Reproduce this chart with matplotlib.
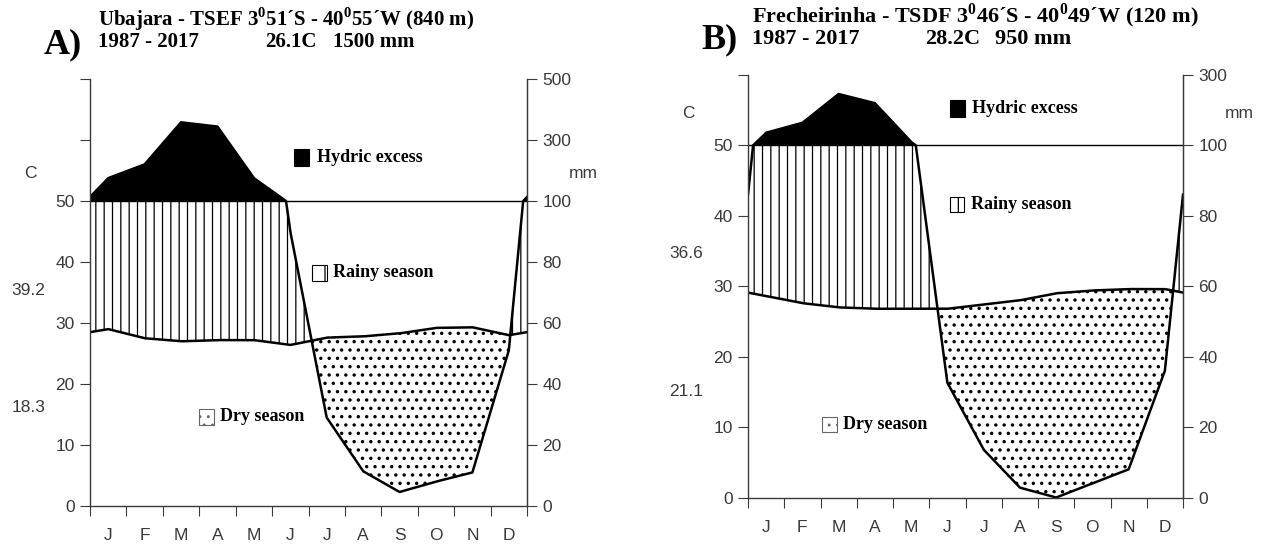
import numpy as np
import matplotlib
matplotlib.use("Agg")
import matplotlib.pyplot as plt
from matplotlib.patches import Rectangle

plt.rcParams['font.family'] = ['Liberation Sans', 'DejaVu Sans']
plt.rcParams['hatch.linewidth'] = 0.9
plt.rcParams['hatch.color'] = 'black'
plt.rcParams['mathtext.fontset'] = 'custom'
plt.rcParams['mathtext.bf'] = 'Liberation Serif:bold'
plt.rcParams['mathtext.rm'] = 'Liberation Serif:bold'

months = ['J', 'F', 'M', 'A', 'M', 'J', 'J', 'A', 'S', 'O', 'N', 'D']

# A) Ubajara - temperatura (C) e precipitacao (mm) mensais
temp_a = [29.0, 27.5, 27.0, 27.2, 27.2, 26.4, 27.6, 27.8, 28.3, 29.2, 29.3, 28.0]
prec_a = [175, 220, 358, 344, 175, 90, 29, 11.4, 4.6, 8, 11, 51]
# B) Frecheirinha
temp_b = [28.6, 27.6, 27.0, 26.8, 26.8, 26.8, 27.4, 28.0, 29.0, 29.4, 29.6, 29.6]
prec_b = [136, 164, 246, 220, 110, 32.6, 13.6, 2.8, 0, 4, 8, 36]

ticks_c_a = [0, 10, 20, 30, 40, 50, 60, 70]
ticks_mm_a = [0, 20, 40, 60, 80, 100, 300, 500]
ticks_c_b = [0, 10, 20, 30, 40, 50, 60]
ticks_mm_b = [0, 20, 40, 60, 80, 100, 300]

GRAY = '#3a3a3a'
SERIF = ['Liberation Serif', 'DejaVu Serif']
FS = 12.5


def mm2c(p):
    p = np.asarray(p, dtype=float)
    return np.where(p <= 100, p / 2.0, 50 + (p - 100) / 20.0)


def c2mm(c):
    c = np.asarray(c, dtype=float)
    return np.where(c <= 50, c * 2.0, 100 + (c - 50) * 20.0)


def panel(ax, temp, prec, ytop, cticks, mmticks, hi, lo, leg):
    # diagrama de Walter-Lieth: meses no centro, bordas = media dez/jan
    xm = np.arange(12) + 0.5
    xe = np.concatenate([[0], xm, [12]])
    te = np.concatenate([[(temp[0] + temp[-1]) / 2], temp, [(temp[0] + temp[-1]) / 2]])
    pe = np.concatenate([[(prec[0] + prec[-1]) / 2], prec, [(prec[0] + prec[-1]) / 2]])
    xs = np.linspace(0, 12, 2401)
    tc = np.interp(xs, xe, te)
    pc = mm2c(np.interp(xs, xe, pe))

    ax.fill_between(xs, 50, pc, where=pc > 50, interpolate=True, color='black', lw=0)
    ax.fill_between(xs, tc, np.minimum(pc, 50), where=pc > tc, interpolate=True,
                    facecolor='none', edgecolor='black', hatch='||', lw=0)
    with plt.rc_context({'hatch.linewidth': 1.25}):
        ax.fill_between(xs, pc, tc, where=pc < tc, interpolate=True,
                        facecolor='none', edgecolor='black', hatch='..', lw=0)
    ax.axhline(50, color='black', lw=1)
    ax.plot(xs, pc, color='black', lw=1.8, solid_joinstyle='round')
    ax.plot(xs, tc, color='black', lw=1.8, solid_joinstyle='round')

    ax.set_xlim(0, 12)
    ax.set_ylim(0, ytop)
    ax.spines['top'].set_visible(False)
    for s in ['left', 'right', 'bottom']:
        ax.spines[s].set_color(GRAY)
        ax.spines[s].set_linewidth(1)
    ax.set_xticks(np.arange(13))
    ax.set_xticklabels([])
    ax.set_xticks(np.arange(12) + 0.5, minor=True)
    ax.set_xticklabels(months, minor=True)
    ax.tick_params(axis='x', which='major', direction='out', length=7, color=GRAY)
    ax.tick_params(axis='x', which='minor', length=0, pad=16, labelsize=FS, labelcolor=GRAY)
    ax.set_yticks(cticks)
    ax.set_yticklabels([str(v) if v <= 50 else '' for v in cticks])
    ax.tick_params(axis='y', direction='out', length=7, color=GRAY, labelsize=FS,
                   labelcolor=GRAY, pad=4)

    sec = ax.secondary_yaxis('right', functions=(c2mm, mm2c))
    sec.set_yticks(mmticks)
    sec.spines['right'].set_color(GRAY)
    sec.tick_params(direction='out', length=7, color=GRAY, labelsize=FS,
                    labelcolor=GRAY, pad=4)

    ax.text(-1.65, 54.5, 'C', ha='center', va='center', fontsize=FS, color=GRAY, clip_on=False)
    ax.text(13.55, 54.5, 'mm', ha='center', va='center', fontsize=FS, color=GRAY, clip_on=False)
    ax.text(-1.7, hi[1], hi[0], ha='center', va='center', fontsize=FS, color=GRAY, clip_on=False)
    ax.text(-1.7, lo[1], lo[0], ha='center', va='center', fontsize=FS, color=GRAY, clip_on=False)

    # legenda
    h = ytop / 55.0
    (x1, y1), (x2, y2), (x3, y3) = leg
    ax.add_patch(Rectangle((x1, y1 - 1.1 * h), 0.42, 2.2 * h, facecolor='black', edgecolor='black', lw=0.8))
    ax.text(x1 + 0.62, y1, 'Hydric excess', fontsize=13, fontweight='bold', family=SERIF, va='center')
    ax.add_patch(Rectangle((x2, y2 - 1.0 * h), 0.4, 2.0 * h, facecolor='white', edgecolor='black',
                           hatch='|', lw=0.8))
    ax.text(x2 + 0.58, y2, 'Rainy season', fontsize=13, fontweight='bold', family=SERIF, va='center')
    ax.add_patch(Rectangle((x3, y3 - 1.0 * h), 0.4, 2.0 * h, facecolor='white', edgecolor='#666666',
                           hatch='..', lw=0.8))
    ax.text(x3 + 0.58, y3, 'Dry season', fontsize=13, fontweight='bold', family=SERIF, va='center')


fig = plt.figure(figsize=(12.64, 5.51), dpi=100)
W, H = 1264.0, 551.0
ax_a = fig.add_axes([90 / W, 1 - 506 / H, 437 / W, 427 / H])
ax_b = fig.add_axes([748 / W, 1 - 497.5 / H, 435 / W, 422.5 / H])

panel(ax_a, temp_a, prec_a, 70, ticks_c_a, ticks_mm_a, ('39.2', 35.4), ('18.3', 16.1),
      [(5.6, 57.2), (6.1, 38.2), (3.0, 14.6)])
panel(ax_b, temp_b, prec_b, 60, ticks_c_b, ticks_mm_b, ('36.6', 34.7), ('21.1', 15.1),
      [(5.57, 55.3), (5.57, 41.6), (2.05, 10.4)])


def fx(px):
    return px / W


def fy(py):
    return 1 - py / H


kw = dict(family=SERIF, fontweight='bold', va='center')
deg = r'$^{\mathbf{0}}$'
fig.text(fx(63), fy(45), 'A)', ha='center', fontsize=26, **kw)
fig.text(fx(98), fy(19), 'Ubajara - TSEF 3' + deg + '51\u00b4S - 40' + deg + '55\u00b4W (840 m)', fontsize=15, **kw)
fig.text(fx(98), fy(42), '1987 - 2017', fontsize=15, **kw)
fig.text(fx(265), fy(42), '26.1C', fontsize=15, **kw)
fig.text(fx(333), fy(42), '1500 mm', fontsize=15, **kw)

fig.text(fx(720), fy(40), 'B)', ha='center', fontsize=26, **kw)
fig.text(fx(752), fy(16), 'Frecheirinha - TSDF 3' + deg + '46\u00b4S - 40' + deg + '49\u00b4W (120 m)', fontsize=16, **kw)
fig.text(fx(752), fy(39), '1987 - 2017', fontsize=16, **kw)
fig.text(fx(925), fy(39), '28.2C', fontsize=16, **kw)
fig.text(fx(995), fy(39), '950 mm', fontsize=16, **kw)

fig.savefig('out.png', dpi=100, facecolor='white')
